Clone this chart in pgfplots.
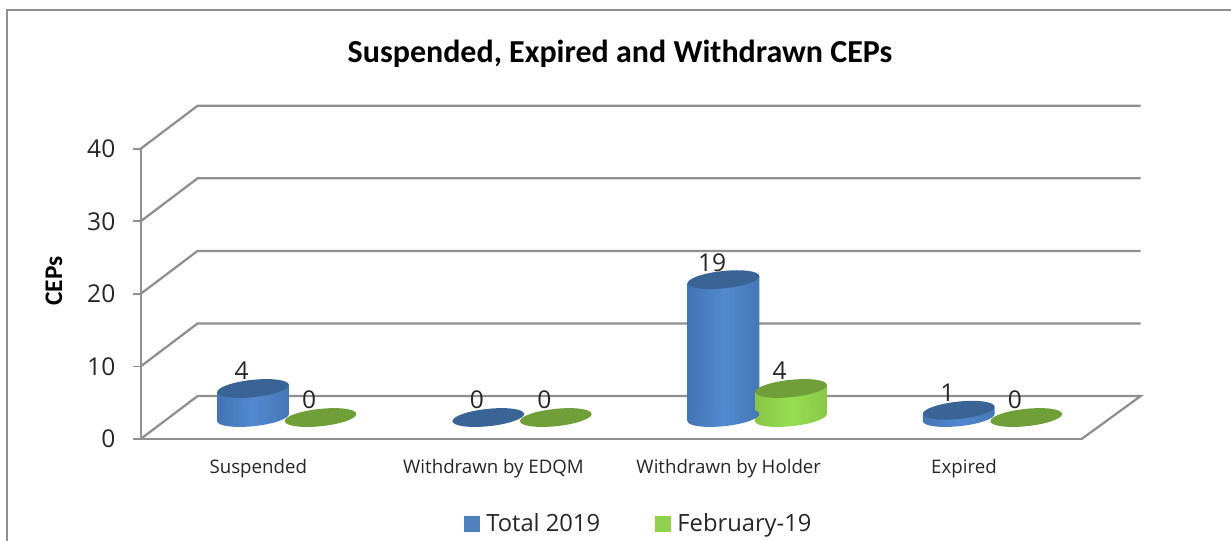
\documentclass[border=0pt]{standalone}
\usepackage{fontspec}
\usepackage{pgfplots}
\usepackage{pgfplotstable}
\pgfplotsset{compat=1.18}
\setmainfont{Open Sans}
\newfontfamily\calib{Carlito}
\definecolor{wall}{HTML}{8F8F8F}
\definecolor{txt}{HTML}{262626}
\definecolor{bluetop}{HTML}{3A6496}
\definecolor{greentop}{HTML}{709F3A}
\definecolor{leg1}{HTML}{4F81BD}
\definecolor{leg2}{HTML}{92D050}
\definecolor{ba}{HTML}{2C5688}
\definecolor{bb}{HTML}{3A6AA4}
\definecolor{bc}{HTML}{5289D0}
\definecolor{bd}{HTML}{3F70AC}
\definecolor{be}{HTML}{2B4F7C}
\definecolor{ga}{HTML}{6C9A34}
\definecolor{gb}{HTML}{7FB83F}
\definecolor{gc}{HTML}{98DE52}
\definecolor{gd}{HTML}{84BE43}
\definecolor{ge}{HTML}{679432}
\pgfdeclarehorizontalshading{blueside}{100bp}{color(0bp)=(ba);color(12bp)=(bb);color(50bp)=(bc);color(85bp)=(bd);color(100bp)=(be)}
\pgfdeclarehorizontalshading{greenside}{100bp}{color(0bp)=(ga);color(12bp)=(gb);color(50bp)=(gc);color(85bp)=(gd);color(100bp)=(ge)}
\def\cylellipse{\pgftransformrotate{6}\pgfpathellipse{\pgfpointorigin}{\pgfqpoint{27pt}{0pt}}{\pgfqpoint{0pt}{6.5pt}}}
\pgfdeclareplotmark{cyltop}{\cylellipse\pgfusepathqfill}
\pgfdeclareplotmark{bluebase}{\cylellipse\pgfshadepath{blueside}{0}\pgfusepath{discard}}
\pgfdeclareplotmark{greenbase}{\cylellipse\pgfshadepath{greenside}{0}\pgfusepath{discard}}
\pgfplotstableread{
x y
0 4
1 0
2 19
3 1
}\totaltable
\pgfplotstableread{
x y
0 0
1 0
2 4
3 0
}\febtable
\begin{document}
\begin{tikzpicture}
\path[use as bounding box] (0,0) rectangle (923.25pt,405.75pt);
\draw[wall,line width=2pt] (5.25pt,0) -- (5.25pt,398.25pt) -- (923.25pt,398.25pt);
\begin{axis}[
  at={(105.5pt,76.5pt)},anchor=south west,
  scale only axis,width=705.7pt,height=217.7pt,
  xmin=-0.5,xmax=3.5,ymin=0,ymax=40,clip=false,
  axis lines=left,axis line style={wall,line width=1.7pt,-},
  xtick={0,1,2,3},
  xticklabels={Suspended,Withdrawn by EDQM,Withdrawn by Holder,Expired},
  minor xtick={-0.5,0.5,1.5,2.5,3.5},
  ytick={0,10,20,30,40},
  tick align=outside,
  major tick length=5.5pt,minor tick length=3.8pt,
  xtick style={draw=none},
  ytick style={wall,line width=1.3pt},
  minor x tick style={wall,line width=1.3pt},
  xticklabel style={font=\fontsize{14}{16}\selectfont,text=txt,anchor=center,yshift=-16.75pt},
  yticklabel style={font=\fontsize{18.4}{20}\selectfont,text=txt,/pgf/number format/assume math mode=true,xshift=-10pt},
  title={Suspended, Expired and Withdrawn CEPs},
  title style={at={(0.5094,1.2986)},anchor=center,font=\calib\bfseries\fontsize{24}{26}\selectfont},
  ylabel={CEPs},
  every axis y label/.style={at={(-0.0921,0.544)},rotate=90,anchor=center,font=\calib\bfseries\fontsize{19}{21}\selectfont},
  legend columns=2,
  legend style={draw=none,fill=none,at={(0.5295,-0.292)},anchor=center,font=\fontsize{17.8}{19}\selectfont,text=txt,
    /tikz/every even column/.append style={column sep=39pt},
    /tikz/every odd column/.append style={column sep=3pt},inner sep=0pt},
  nodes near coords style={anchor=center,xshift=-8.6pt,yshift=13pt,font=\fontsize{18.4}{20}\selectfont,text=txt,/pgf/number format/assume math mode=true},
  blueshift/.style={xshift=-3.94pt,yshift=16.1pt},
  greenshift/.style={xshift=46.69pt,yshift=16.1pt},
]
% walls and floor
\addplot[forget plot,wall,line width=1.7pt] coordinates {(-0.5,0)(-0.258,5.92)(3.751,5.92)(3.5,0)};
\addplot[forget plot,wall,line width=1.7pt] coordinates {(-0.5,10)(-0.258,15.92)(3.751,15.92)};
\addplot[forget plot,wall,line width=1.7pt] coordinates {(-0.5,20)(-0.258,25.92)(3.751,25.92)};
\addplot[forget plot,wall,line width=1.7pt] coordinates {(-0.5,30)(-0.258,35.92)(3.751,35.92)};
\addplot[forget plot,wall,line width=1.7pt] coordinates {(-0.5,40)(-0.258,45.92)(3.751,45.92)};
% Total 2019: base ellipse, cylinder wall (value +- half the tilt of the ellipse), top ellipse with label
\addplot[forget plot,blueshift,only marks,mark=bluebase] coordinates {(0,0)(2,0)(3,0)};
\addplot[forget plot,blueshift,draw=none,shade,shading=blueside] coordinates {(-0.1522,-0.493)(0.1522,0.493)(0.1522,4.493)(-0.1522,3.507)} --cycle;
\addplot[forget plot,blueshift,draw=none,shade,shading=blueside] coordinates {(1.8478,-0.493)(2.1522,0.493)(2.1522,19.493)(1.8478,18.507)} --cycle;
\addplot[forget plot,blueshift,draw=none,shade,shading=blueside] coordinates {(2.8478,-0.493)(3.1522,0.493)(3.1522,1.493)(2.8478,0.507)} --cycle;
\addplot[forget plot,blueshift,only marks,mark=cyltop,mark options={fill=bluetop,draw=none},
  nodes near coords,point meta=y] table[x=x,y=y] {\totaltable};
% February-19
\addplot[forget plot,greenshift,only marks,mark=greenbase] coordinates {(2,0)};
\addplot[forget plot,greenshift,draw=none,shade,shading=greenside] coordinates {(1.8478,-0.493)(2.1522,0.493)(2.1522,4.493)(1.8478,3.507)} --cycle;
\addplot[forget plot,greenshift,only marks,mark=cyltop,mark options={fill=greentop,draw=none},
  nodes near coords,point meta=y] table[x=x,y=y] {\febtable};
% legend
\addlegendimage{legend image code/.code={\fill[leg1] (0pt,-5.8pt) rectangle (11.6pt,5.8pt);}}
\addlegendentry{Total 2019}
\addlegendimage{legend image code/.code={\fill[leg2] (0pt,-5.8pt) rectangle (11.6pt,5.8pt);}}
\addlegendentry{February-19}
\end{axis}
\end{tikzpicture}
\end{document}
